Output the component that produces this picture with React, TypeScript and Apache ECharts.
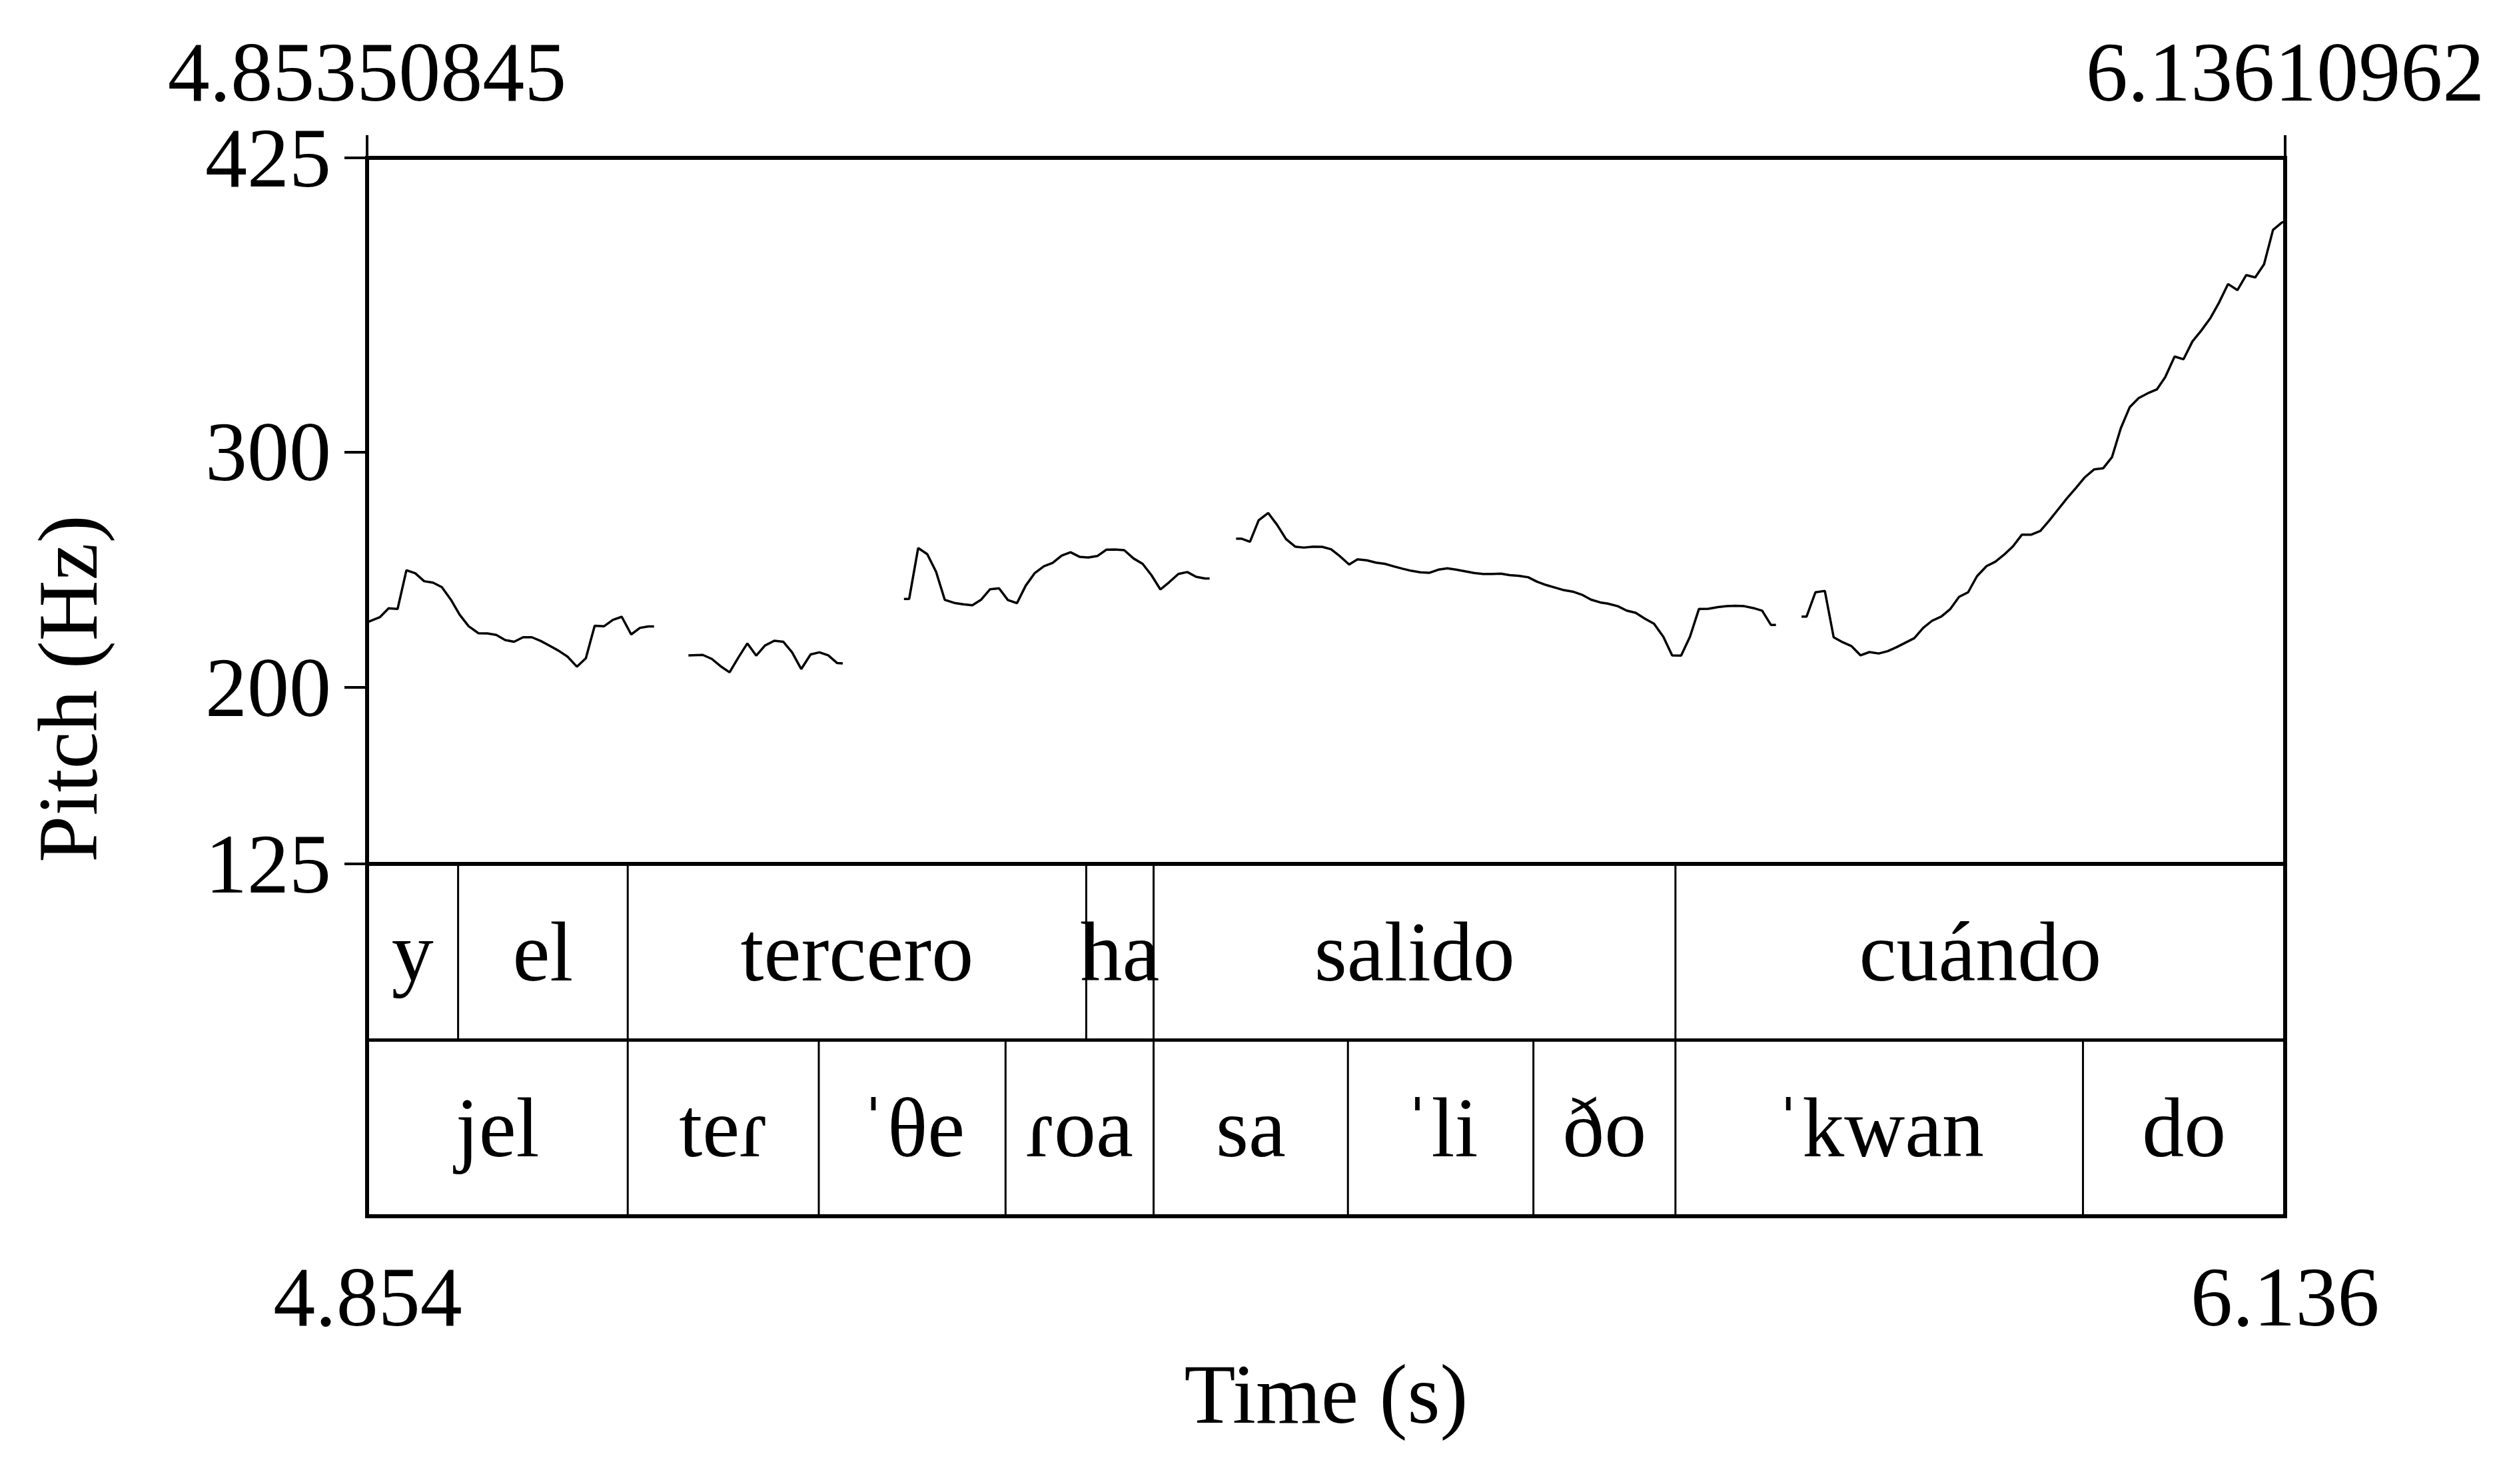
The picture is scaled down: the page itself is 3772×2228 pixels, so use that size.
import React, { useEffect, useRef } from "react";
import * as echarts from "echarts";

const FONT = '"Liberation Serif", "Times New Roman", "DejaVu Serif", serif';
const FS = 126;

const X_MIN = 4.85350845;
const X_MAX = 6.13610962;
const Y_MIN = 125;
const Y_MAX = 425;
const yTicks = [125, 200, 300, 425];
const bottomTicks = [4.854, 6.136];

// pitch contour segments: [time (s), F0 (Hz)]
const seg1 = [[4.8537,227.7],[4.8620,229.8],[4.8679,233.6],[4.8739,233.3],[4.8798,249.8],[4.8857,248.5],[4.8917,245.1],[4.8976,244.5],[4.9035,242.6],[4.9095,237.3],[4.9154,230.9],[4.9214,226.0],[4.9280,223.0],[4.9340,222.9],[4.9399,222.3],[4.9459,220.1],[4.9518,219.4],[4.9578,221.3],[4.9637,221.3],[4.9697,219.7],[4.9756,217.7],[4.9815,215.6],[4.9875,213.1],[4.9938,208.8],[4.9998,212.4],[5.0057,226.2],[5.0120,226.0],[5.0179,228.7],[5.0238,230.0],[5.0301,222.5],[5.0360,225.3],[5.0416,225.9],[5.0454,225.9]];
const seg2 = [[5.0684,213.6],[5.0780,213.8],[5.0840,212.1],[5.0899,209.0],[5.0959,206.4],[5.1018,212.7],[5.1078,218.7],[5.1137,213.5],[5.1196,217.8],[5.1258,219.8],[5.1318,219.4],[5.1377,214.9],[5.1438,207.8],[5.1501,214.0],[5.1560,214.9],[5.1619,213.6],[5.1679,210.3],[5.1716,210.2]];
const seg3 = [[5.2125,237.6],[5.2160,237.6],[5.2220,259.2],[5.2281,256.6],[5.2340,249.1],[5.2398,237.2],[5.2462,235.9],[5.2522,235.3],[5.2582,234.9],[5.2642,237.3],[5.2701,241.7],[5.2761,242.1],[5.2820,237.1],[5.2881,235.8],[5.2939,243.2],[5.3000,248.6],[5.3061,251.5],[5.3119,252.9],[5.3180,256.0],[5.3239,257.4],[5.3299,255.5],[5.3358,255.2],[5.3418,255.8],[5.3479,258.5],[5.3538,258.6],[5.3598,258.3],[5.3660,254.8],[5.3721,252.5],[5.3780,247.7],[5.3840,241.6],[5.3899,244.7],[5.3960,248.2],[5.4020,249.0],[5.4079,247.0],[5.4138,246.3],[5.4169,246.3]];
const seg4 = [[5.4346,263.2],[5.4381,263.2],[5.4439,261.9],[5.4497,271.0],[5.4561,274.1],[5.4620,269.1],[5.4680,263.0],[5.4741,259.8],[5.4799,259.4],[5.4863,259.8],[5.4922,259.7],[5.4981,258.7],[5.5041,255.7],[5.5102,252.2],[5.5158,254.4],[5.5221,254.0],[5.5282,253.0],[5.5341,252.5],[5.5401,251.4],[5.5460,250.4],[5.5520,249.5],[5.5579,248.9],[5.5640,248.7],[5.5698,250.0],[5.5759,250.6],[5.5818,250.0],[5.5878,249.3],[5.5937,248.6],[5.5998,248.2],[5.6057,248.2],[5.6117,248.3],[5.6176,247.7],[5.6236,247.4],[5.6299,246.8],[5.6359,244.9],[5.6419,243.5],[5.6478,242.4],[5.6539,241.3],[5.6597,240.7],[5.6658,239.4],[5.6719,237.3],[5.6781,236.1],[5.6832,235.6],[5.6899,234.5],[5.6958,232.6],[5.7018,231.7],[5.7077,229.3],[5.7141,227.0],[5.7203,221.5],[5.7262,213.6],[5.7322,213.5],[5.7381,221.5],[5.7441,233.3],[5.7504,233.4],[5.7567,234.1],[5.7626,234.5],[5.7686,234.7],[5.7745,234.5],[5.7805,233.7],[5.7864,232.6],[5.7923,226.5],[5.7956,226.5]];
const seg5 = [[5.8127,230.1],[5.8161,230.1],[5.8220,240.4],[5.8283,241.0],[5.8342,221.3],[5.8402,219.2],[5.8462,217.5],[5.8522,213.6],[5.8581,215.0],[5.8644,214.4],[5.8703,215.4],[5.8763,217.1],[5.8822,219.0],[5.8881,220.9],[5.8941,225.3],[5.9000,228.3],[5.9062,230.1],[5.9122,233.3],[5.9181,238.5],[5.9241,240.4],[5.9300,247.2],[5.9364,251.5],[5.9423,253.4],[5.9482,256.4],[5.9542,260.0],[5.9601,264.9],[5.9664,264.9],[5.9724,266.5],[5.9785,271.0],[5.9844,275.7],[5.9903,280.4],[5.9963,284.8],[6.0022,289.3],[6.0083,292.6],[6.0144,293.1],[6.0203,297.8],[6.0262,310.1],[6.0322,319.1],[6.0381,322.9],[6.0440,324.9],[6.0503,326.6],[6.0559,331.8],[6.0622,340.6],[6.0681,339.4],[6.0741,347.0],[6.0800,351.6],[6.0859,356.7],[6.0919,363.5],[6.0979,371.4],[6.1042,368.8],[6.1101,375.2],[6.1161,374.2],[6.1220,379.8],[6.1280,394.4],[6.1339,397.5],[6.1354,397.9]];
const segments = [seg1, seg2, seg3, seg4, seg5];

// tiers: [start, end, label]
const wordTier: [number, number, string][] = [
  [4.85350845, 4.91437, "y"],
  [4.91437, 5.0278, "el"],
  [5.0278, 5.33439, "tercero"],
  [5.33439, 5.37944, "ha"],
  [5.37944, 5.7284, "salido"],
  [5.7284, 6.13610962, "cuándo"],
];
const syllableTier: [number, number, string][] = [
  [4.85350845, 5.0278, "jel"],
  [5.0278, 5.15556, "teɾ"],
  [5.15556, 5.28044, "ˈθe"],
  [5.28044, 5.37944, "ɾoa"],
  [5.37944, 5.50939, "sa"],
  [5.50939, 5.63342, "ˈli"],
  [5.63342, 5.7284, "ðo"],
  [5.7284, 6.00092, "ˈkwan"],
  [6.00092, 6.13610962, "do"],
];

const tierLabels = [...wordTier.map((d) => d[2]), ...syllableTier.map((d) => d[2])];
const tierData = [
  ...wordTier.map((d) => [d[0], d[1], 0]),
  ...syllableTier.map((d) => [d[0], d[1], 1]),
];

const textBase = { color: "#000", fontFamily: FONT, fontSize: FS };

export default function App() {
  const ref = useRef<HTMLDivElement>(null);
  useEffect(() => {
    if (!ref.current) return;
    const chart = echarts.init(ref.current, undefined, { renderer: "svg" });
    const option: any = {
      animation: false,
      backgroundColor: "#fff",
      grid: [
        { left: 551, top: 237, width: 2879, height: 1060, show: true, borderColor: "#000", borderWidth: 6, backgroundColor: "transparent" },
        { left: 551, top: 1297, width: 2879, height: 529, show: true, borderColor: "#000", borderWidth: 6, backgroundColor: "transparent" },
      ],
      xAxis: [
        {
          type: "value", gridIndex: 0, position: "top", min: X_MIN, max: X_MAX,
          axisLine: { show: false },
          splitLine: { show: false },
          axisTick: { show: true, inside: false, length: 34, customValues: [X_MIN, X_MAX], lineStyle: { color: "#000", width: 4 } },
          axisLabel: { ...textBase, margin: 66, customValues: [X_MIN, X_MAX], formatter: (v: number) => v.toFixed(8) },
        },
        {
          type: "value", gridIndex: 1, position: "bottom", min: X_MIN, max: X_MAX,
          axisLine: { show: false },
          splitLine: { show: false },
          axisTick: { show: true, inside: false, length: 35, customValues: bottomTicks, lineStyle: { color: "#000", width: 4 } },
          axisLabel: { ...textBase, margin: 58, customValues: bottomTicks, formatter: (v: number) => v.toFixed(3) },
          name: "Time (s)", nameLocation: "middle", nameGap: 204,
          nameTextStyle: { ...textBase },
        },
      ],
      yAxis: [
        {
          type: "value", gridIndex: 0, min: Y_MIN, max: Y_MAX,
          axisLine: { show: false },
          splitLine: { show: false },
          axisTick: { show: true, inside: false, length: 34, customValues: yTicks, lineStyle: { color: "#000", width: 4 } },
          axisLabel: { ...textBase, margin: 54, customValues: yTicks },
        },
        {
          type: "value", gridIndex: 1, min: 0, max: 2, interval: 1, inverse: true,
          axisLine: { show: false }, axisTick: { show: false }, axisLabel: { show: false },
          splitLine: { show: true, lineStyle: { color: "#000", width: 5 } },
        },
      ],
      graphic: [
        {
          type: "text", x: 102, y: 1034, rotation: Math.PI / 2,
          style: { text: "Pitch (Hz)", fill: "#000", fontFamily: FONT, fontSize: FS, align: "center", verticalAlign: "middle" },
        },
      ],
      series: [
        ...segments.map((seg) => ({
          type: "line", xAxisIndex: 0, yAxisIndex: 0, data: seg,
          showSymbol: false, symbol: "none", silent: true,
          lineStyle: { color: "#000", width: 3.5 },
        })),
        {
          type: "custom", xAxisIndex: 1, yAxisIndex: 1, data: tierData,
          encode: { x: [0, 1], y: 2 }, silent: true,
          renderItem: (params: any, api: any) => {
            const s = api.value(0), e = api.value(1), tier = api.value(2);
            const a = api.coord([s, tier]);
            const b = api.coord([e, tier + 1]);
            const children: any[] = [];
            if (s > X_MIN + 1e-6) {
              children.push({ type: "line", shape: { x1: a[0], y1: a[1], x2: a[0], y2: b[1] }, style: { stroke: "#000", lineWidth: 3 } });
            }
            children.push({
              type: "text",
              style: {
                text: tierLabels[params.dataIndex], x: (a[0] + b[0]) / 2, y: (a[1] + b[1]) / 2,
                fill: "#000", fontFamily: FONT, fontSize: FS, align: "center", verticalAlign: "middle",
              },
            });
            return { type: "group", children };
          },
        },
      ],
    };
    chart.setOption(option);
    return () => chart.dispose();
  }, []);
  return <div ref={ref} style={{ position: "fixed", left: 0, top: 0, width: 3772, height: 2228, background: "#fff" }} />;
}
